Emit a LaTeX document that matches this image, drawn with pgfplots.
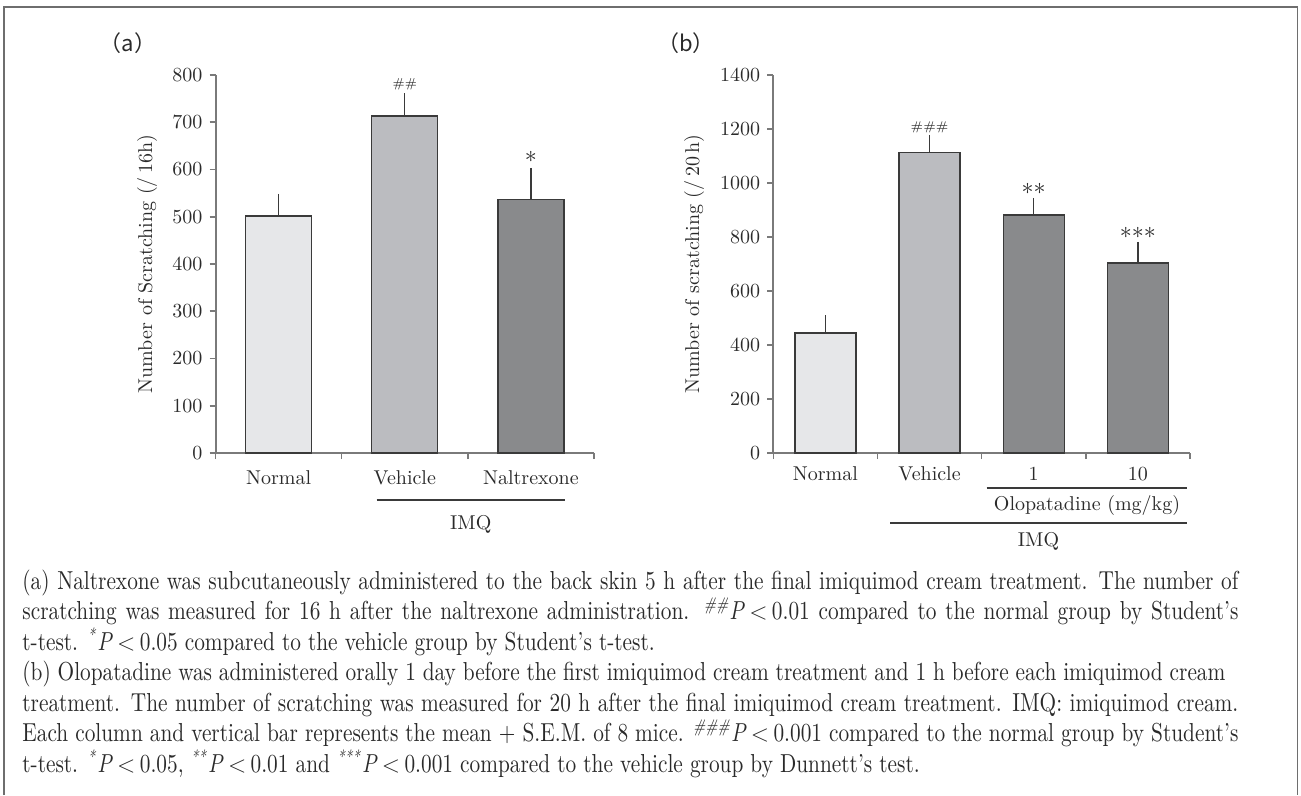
\documentclass[border=0pt]{standalone}
\usepackage{pgfplots}
\pgfplotsset{compat=1.18}
\usepackage{fontspec}
\newfontfamily\cjk{Noto Sans CJK JP}
\newfontfamily\capfam{lmroman10-regular.otf}[FakeStretch=0.82, Ligatures=TeX, ItalicFont=lmroman10-italic.otf]
\definecolor{c1}{HTML}{E6E7E9}
\definecolor{c2}{HTML}{BBBCC0}
\definecolor{c3}{HTML}{898A8C}
\definecolor{ax}{HTML}{7A7A7A}
\definecolor{ol}{HTML}{3A3A3A}
\definecolor{txt}{HTML}{2A2A2A}
\newcommand{\lab}{\fontsize{10}{12}\selectfont}
\newcommand{\capf}{\capfam\fontsize{13}{15}\selectfont}
\newcommand{\Pl}[1]{\textsuperscript{\textit{#1}}\textit{P}\,$<$\,}
\pgfplotsset{
  myaxis/.style={
    scale only axis,
    axis x line*=bottom, axis y line*=left,
    axis line style={ax, line width=1pt, -},
    ymin=0,
    tick align=outside,
    major tick length=3pt,
    tick style={ax, line width=0.8pt},
    xticklabels={},
    yticklabel style={font=\lab, text=txt, /pgf/number format/1000 sep={}},
    ybar, bar shift=0pt,
    clip=false,
    error bars/y dir=plus, error bars/y explicit,
    error bars/error bar style={ol, line width=0.7pt},
    error bars/error mark options={ol, line width=0.7pt, mark size=1.8pt},
  },
  b1/.style={fill=c1, draw=ol, line width=0.7pt},
  b2/.style={fill=c2, draw=ol, line width=0.7pt},
  b3/.style={fill=c3, draw=ol, line width=0.7pt},
}
\begin{document}
\begin{tikzpicture}[x=0.5pt,y=-0.5pt]
\path (0,0) rectangle (1301,795);
\draw[ax!90!black, line width=0.75pt] (4,795) -- (4,7) -- (1297.5,7) -- (1297.5,795);

% panel labels
\node[font=\cjk\fontsize{11}{13}\selectfont, text=txt] at (128,43) {（a）};
\node[font=\cjk\fontsize{11}{13}\selectfont, text=txt] at (686,43) {（b）};

% ---------- (a)
\begin{axis}[myaxis,
  at={(107.75pt,-226.5pt)}, anchor=south west,
  width=189.25pt, height=189pt,
  xmin=-0.5, xmax=2.5, ymax=800,
  xtick={-0.5,0.5,1.5,2.5},
  ytick={0,100,...,800},
  bar width=33pt]
\addplot[b1] coordinates {(0,502) +- (0,39)};
\addplot[b2] coordinates {(1,713) +- (0,41)};
\addplot[b3] coordinates {(2,537) +- (0,59)};
\node[anchor=base, font=\fontsize{6.5}{8}\selectfont, text=txt] at (axis cs:1,774) {\#\#};
\node[anchor=base, font=\fontsize{12}{14}\selectfont, text=txt] at (axis cs:2,614) {${\ast}$};
\node[anchor=base, font=\lab, text=txt, yshift=-15.5pt] at (axis cs:0,0) {Normal};
\node[anchor=base, font=\lab, text=txt, yshift=-15.5pt] at (axis cs:1,0) {Vehicle};
\node[anchor=base, font=\lab, text=txt, yshift=-15.5pt] at (axis cs:2,0) {Naltrexone};
\end{axis}
\node[rotate=90, font=\lab, text=txt] at (147,264) {Number of Scratching (/\,16h)};
\draw[ol, line width=0.7pt] (376.7,500) -- (565,500);
\node[anchor=base, font=\lab, text=txt, inner sep=0] at (470.8,529) {IMQ};

% ---------- (b)
\begin{axis}[myaxis,
  at={(386.65pt,-226.5pt)}, anchor=south west,
  width=208.35pt, height=189pt,
  xmin=-0.5, xmax=3.5, ymax=1400,
  xtick={-0.5,0.5,1.5,2.5,3.5},
  ytick={0,200,...,1400},
  bar width=30.5pt]
\addplot[b1] coordinates {(0,445) +- (0,52)};
\addplot[b2] coordinates {(1,1113) +- (0,52)};
\addplot[b3] coordinates {(2,881) +- (0,51)};
\addplot[b3] coordinates {(3,704) +- (0,65)};
\node[anchor=base, font=\fontsize{6.3}{8}\selectfont, text=txt] at (axis cs:1,1195) {\#\#\#};
\node[anchor=base, font=\fontsize{12}{14}\selectfont, text=txt] at (axis cs:2,956) {${\ast}{\ast}$};
\node[anchor=base, font=\fontsize{12}{14}\selectfont, text=txt] at (axis cs:3,793) {${\ast}{\ast}{\ast}$};
\node[anchor=base, font=\lab, text=txt, yshift=-13.5pt] at (axis cs:0,0) {Normal};
\node[anchor=base, font=\lab, text=txt, yshift=-13.5pt] at (axis cs:1,0) {Vehicle};
\node[anchor=base, font=\lab, text=txt, yshift=-13.5pt] at (axis cs:2,0) {1};
\node[anchor=base, font=\lab, text=txt, yshift=-13.5pt] at (axis cs:3,0) {10};
\end{axis}
\node[rotate=90, font=\lab, text=txt] at (694,264) {Number of scratching (/\,20\,h)};
\draw[ol, line width=0.7pt] (986.7,488) -- (1187.3,488);
\node[anchor=base, font=\lab, text=txt, inner sep=0] at (1087,510) {Olopatadine (mg/kg)};
\draw[ol, line width=0.7pt] (890,523) -- (1187.3,523);
\node[anchor=base, font=\lab, text=txt, inner sep=0] at (1038.5,546) {IMQ};

% ---------- caption
\begin{scope}[every node/.style={anchor=base west, inner sep=0, font=\capf, text=txt}]
\node at (22,589) {\makebox[608pt][s]{(a) Naltrexone was subcutaneously administered to the back skin 5 h after the final imiquimod cream treatment. The number of}};
\node at (22,619.5) {\makebox[608pt][s]{scratching was measured for 16 h after the naltrexone administration. \Pl{\#\#}0.01 compared to the normal group by Student’s}};
\node at (22,650) {t-test. \Pl{*}0.05 compared to the vehicle group by Student’s t-test.};
\node at (22,680.5) {\makebox[601.5pt][s]{(b) Olopatadine was administered orally 1 day before the first imiquimod cream treatment and 1 h before each imiquimod cream}};
\node at (22,711) {\makebox[608pt][s]{treatment. The number of scratching was measured for 20 h after the final imiquimod cream treatment. IMQ: imiquimod cream.}};
\node at (22,741.5) {\makebox[608pt][s]{Each column and vertical bar represents the mean + S.E.M. of 8 mice. \Pl{\#\#\#}0.001 compared to the normal group by Student’s}};
\node at (22,772) {t-test. \Pl{*}0.05, \Pl{**}0.01 and \Pl{***}0.001 compared to the vehicle group by Dunnett’s test.};
\end{scope}
\end{tikzpicture}
\end{document}
